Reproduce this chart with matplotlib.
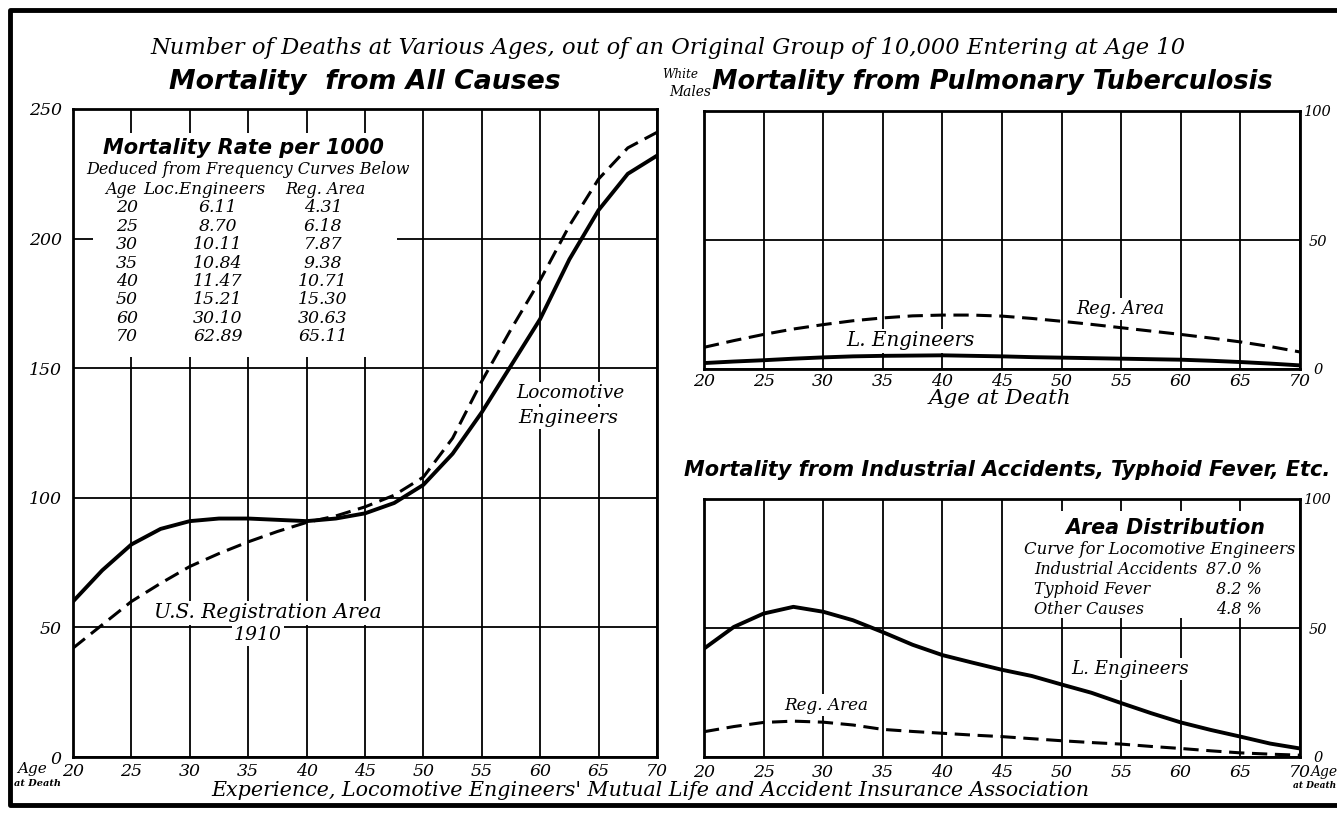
import matplotlib
matplotlib.use("Agg")
import matplotlib.pyplot as plt
from matplotlib.patches import Rectangle
from matplotlib.lines import Line2D

# ---------------- data ----------------
ages = [20, 22.5, 25, 27.5, 30, 32.5, 35, 37.5, 40, 42.5, 45, 47.5, 50,
        52.5, 55, 57.5, 60, 62.5, 65, 67.5, 70]

all_loco = [60, 72, 82, 88, 91, 92, 92, 91.5, 91, 92, 94, 98, 105,
            117, 133, 151, 169, 192, 211, 225, 232]
all_reg = [42, 51, 60, 67, 73.5, 78.5, 83, 87, 90.5, 93, 96.5, 101, 108,
           123, 145, 165, 184, 205, 223, 235, 241]

tb_loco = [2.3, 2.9, 3.4, 4.0, 4.5, 4.9, 5.1, 5.2, 5.3, 5.1, 4.9, 4.6, 4.4,
           4.2, 4.0, 3.8, 3.6, 3.2, 2.7, 2.1, 1.4]
tb_reg = [8.4, 11, 13.4, 15.5, 17.2, 18.7, 19.8, 20.6, 20.9, 20.9, 20.5, 19.6,
          18.5, 17.3, 16, 14.7, 13.4, 12, 10.5, 8.7, 6.6]

acc_loco = [42, 50.4, 55.6, 58.2, 56.3, 53, 48.4, 43.5, 39.5, 36.6, 33.8, 31.4,
            28.1, 24.9, 20.9, 17, 13.4, 10.5, 7.9, 5.2, 3.3]
acc_reg = [9.8, 11.8, 13.4, 13.9, 13.5, 12.4, 10.7, 9.9, 9.2, 8.5, 7.9, 7.1,
           6.3, 5.6, 5.0, 4.1, 3.3, 2.4, 1.6, 1.1, 0.7]

x_ticks = [20, 25, 30, 35, 40, 45, 50, 55, 60, 65, 70]
left_y_ticks = [0, 50, 100, 150, 200, 250]
right_y_ticks = [0, 50, 100]

table_ages = ["20", "25", "30", "35", "40", "50", "60", "70"]
table_loco = ["6.11", "8.70", "10.11", "10.84", "11.47", "15.21", "30.10", "62.89"]
table_reg = ["4.31", "6.18", "7.87", "9.38", "10.71", "15.30", "30.63", "65.11"]

dist_causes = ["Industrial Accidents", "Typhoid Fever", "Other Causes"]
dist_pct = ["87.0 %", "8.2 %", "4.8 %"]

# ---------------- figure ----------------
W, H = 1337, 814
fig = plt.figure(figsize=(W / 100, H / 100), dpi=100)
fig.patch.set_facecolor("white")
renderer = fig.canvas.get_renderer()

SERIF = "DejaVu Serif"
HEAD = "DejaVu Sans"


def fx(px):
    return px / W


def fy(py):
    return 1 - py / H


def ftext(px, py, s, size=12, style="italic", weight="normal", family=SERIF,
          ha="center", va="center", width=None, bg=False, **kw):
    t = fig.text(fx(px), fy(py), s, fontsize=size, fontstyle=style,
                 fontweight=weight, family=family, ha=ha, va=va, zorder=5, **kw)
    if bg:
        t.set_bbox(dict(facecolor="white", edgecolor="none", pad=1.5))
    if width is not None:
        bb = t.get_window_extent(renderer)
        if bb.width > 0:
            t.set_fontsize(size * width / bb.width)
    return t


def style_ticklabels(ax):
    for lab in ax.get_xticklabels() + ax.get_yticklabels():
        lab.set_fontstyle("italic")
        lab.set_family(SERIF)


def make_axes(x0, y0, x1, y1):
    ax = fig.add_axes([fx(x0), fy(y1), (x1 - x0) / W, (y1 - y0) / H])
    ax.set_axisbelow(True)
    ax.set_xlim(20, 70)
    ax.set_xticks(x_ticks)
    ax.grid(True, color="black", linewidth=1.3)
    for sp in ax.spines.values():
        sp.set_linewidth(2.0)
    ax.tick_params(length=0, labelsize=12.5)
    return ax


solid_kw = dict(color="black", linewidth=2.8, solid_capstyle="round",
                solid_joinstyle="round", zorder=3)
dash_kw = dict(color="black", linewidth=2.2, linestyle=(0, (5, 2.5)), zorder=3)

# left: all causes
axL = make_axes(73, 109, 657, 757)
axL.set_ylim(0, 250)
axL.set_yticks(left_y_ticks)
axL.tick_params(axis="y", pad=8)
axL.tick_params(axis="x", pad=4)
style_ticklabels(axL)
axL.plot(ages, all_loco, **solid_kw)
axL.plot(ages, all_reg, **dash_kw)

# top right: tuberculosis
axT = make_axes(704, 111, 1300, 369)
axT.set_ylim(0, 100)
axT.set_yticks(right_y_ticks)
axT.yaxis.tick_right()
axT.tick_params(axis="y", pad=13, labelsize=10.5)
axT.tick_params(axis="x", pad=3)
style_ticklabels(axT)
plt.setp(axT.get_yticklabels(), ha="center")
axT.plot(ages, tb_loco, **solid_kw)
axT.plot(ages, tb_reg, **dash_kw)

# bottom right: accidents
axB = make_axes(704, 499, 1300, 757)
axB.set_ylim(0, 100)
axB.set_yticks(right_y_ticks)
axB.yaxis.tick_right()
axB.tick_params(axis="y", pad=13, labelsize=10.5)
axB.tick_params(axis="x", pad=5)
style_ticklabels(axB)
plt.setp(axB.get_yticklabels(), ha="center")
axB.plot(ages, acc_loco, **solid_kw)
axB.plot(ages, acc_reg, **dash_kw)

# white masks (tables sit over the grid)
fig.patches.append(Rectangle((fx(93), fy(357)), (397 - 93) / W, (357 - 133) / H,
                             transform=fig.transFigure, facecolor="white",
                             edgecolor="none", zorder=1))
fig.patches.append(Rectangle((fx(1005), fy(618)), (1298 - 1005) / W, (618 - 511) / H,
                             transform=fig.transFigure, facecolor="white",
                             edgecolor="none", zorder=1))

# outer border: top, left, bottom (right edge is cropped off in the print)
border = Line2D([fx(1337), fx(10), fx(10), fx(1337)],
                [fy(10), fy(10), fy(805), fy(805)],
                transform=fig.transFigure, color="black", linewidth=3.5,
                zorder=6)
fig.lines.append(border)

# ---------------- titles ----------------
ftext(668, 48, "Number of Deaths at Various Ages, out of an Original Group of "
      "10,000 Entering at Age 10", size=15, width=1035)
ftext(365, 82, "Mortality  from All Causes", size=18, weight="bold",
      family=HEAD, style="oblique", width=392)
ftext(680, 75, "White", size=10, width=36)
ftext(690, 92, "Males", size=10, width=42)
ftext(992, 82, "Mortality from Pulmonary Tuberculosis", size=18, weight="bold",
      family=HEAD, style="oblique", width=562)
ftext(1007, 470, "Mortality from Industrial Accidents, Typhoid Fever, Etc.",
      size=16, weight="bold", family=HEAD, style="oblique", width=648)

# axis captions
ftext(32, 769, "Age", size=11)
ftext(38, 784, "at Death", size=7, weight="bold")
ftext(1324, 772, "Age", size=10)
ftext(1315, 786, "at Death", size=6.5, weight="bold")
ftext(1000, 398, "Age at Death", size=13, width=142)
ftext(650, 790, "Experience, Locomotive Engineers' Mutual Life and Accident "
      "Insurance Association", size=13, width=880)

# ---------------- inset table (left) ----------------
ftext(243, 148, "Mortality Rate per 1000", size=16, weight="bold",
      family=HEAD, style="oblique", width=282)
ftext(248, 170, "Deduced from Frequency Curves Below", size=11, width=322)
ftext(121, 190, "Age", size=11.5)
ftext(204, 190, "Loc.Engineers", size=11, width=122)
ftext(325, 190, "Reg. Area", size=11.5)
row_y0, row_dy = 208, 18.4
for i, (a, l, r) in enumerate(zip(table_ages, table_loco, table_reg)):
    yy = row_y0 + i * row_dy
    ftext(127, yy, a, size=12.5)
    ftext(218, yy, l, size=12.5)
    ftext(323, yy, r, size=12.5)

# curve labels (left)
ftext(570, 393, "Locomotive", size=12, bg=True, width=108)
ftext(568, 418, "Engineers", size=12, bg=True, width=100)
ftext(268, 613, "U.S. Registration Area", size=13, bg=True, width=228)
ftext(258, 635, "1910", size=13, bg=True, width=48)

# curve labels (top right)
ftext(1120, 309, "Reg. Area", size=12, bg=True, width=88)
ftext(910, 341, "L. Engineers", size=12, bg=True, width=128)

# bottom right box
ftext(1165, 528, "Area Distribution", size=15, weight="bold", family=HEAD,
      style="oblique", width=200)
ftext(1160, 549, "Curve for Locomotive Engineers", size=11, width=272)
for i, (c, p) in enumerate(zip(dist_causes, dist_pct)):
    yy = 570 + i * 19.5
    ftext(1034, yy, c, size=11.5, ha="left")
    ftext(1262, yy, p, size=11.5, ha="right")

ftext(1130, 669, "L. Engineers", size=12, bg=True, width=118)
ftext(826, 705, "Reg. Area", size=12, bg=True, width=84)

fig.savefig("out.png", dpi=100, facecolor="white")
